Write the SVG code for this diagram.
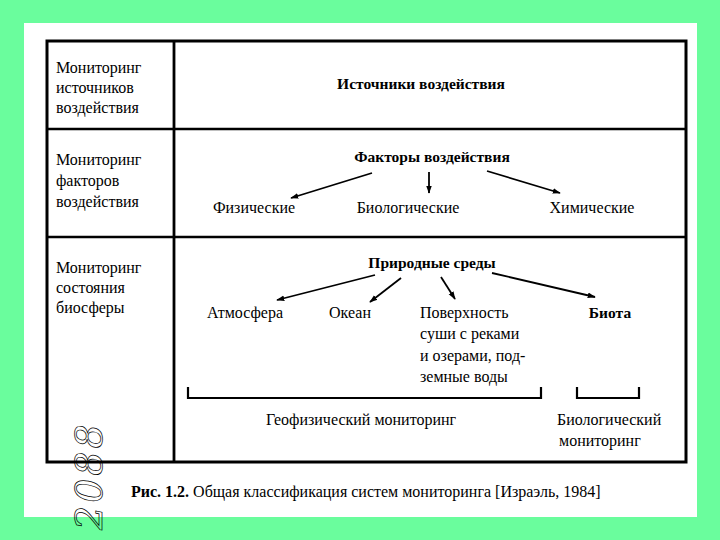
<svg xmlns="http://www.w3.org/2000/svg" width="720" height="540" viewBox="0 0 720 540">
<defs>
<marker id="ah" viewBox="0 0 10 10" refX="9" refY="5" markerWidth="4.5" markerHeight="4.5" orient="auto" markerUnits="strokeWidth">
<path d="M0,1.5 L10,5 L0,8.5 z" fill="#000"/>
</marker>
</defs>
<style>
.t{font-family:"Liberation Serif","Times New Roman",serif;font-size:16px;fill:#000}
.b{font-weight:bold;font-size:15.5px}
.m{text-anchor:middle}
.ln{stroke:#000;fill:none}
.ar{stroke:#000;stroke-width:1.8;fill:none;marker-end:url(#ah)}
.br{stroke:#000;stroke-width:2.2;fill:none}
</style>
<rect x="0" y="0" width="720" height="540" fill="#6afd9d"/>
<rect x="24" y="23" width="673" height="494" fill="#fff"/>

<g id="table">
<rect class="ln" x="47" y="41" width="639" height="421" stroke-width="3"/>
<line class="ln" x1="174" y1="41" x2="174" y2="462" stroke-width="2.8"/>
<line class="ln" x1="47" y1="129" x2="686" y2="129" stroke-width="2.3"/>
<line class="ln" x1="47" y1="237" x2="686" y2="237" stroke-width="2.3"/>
</g>

<g id="row1-label">
<text class="t" x="56" y="73">Мониторинг</text>
<text class="t" x="56" y="93">источников</text>
<text class="t" x="56" y="113">воздействия</text>
</g>
<g id="row2-label">
<text class="t" x="56" y="165">Мониторинг</text>
<text class="t" x="56" y="186">факторов</text>
<text class="t" x="56" y="207">воздействия</text>
</g>
<g id="row3-label">
<text class="t" x="56" y="273">Мониторинг</text>
<text class="t" x="56" y="293">состояния</text>
<text class="t" x="56" y="313">биосферы</text>
</g>

<g id="sources"><text class="t b m" x="421" y="89">Источники воздействия</text></g>
<g id="factors"><text class="t b m" x="432" y="162">Факторы воздействия</text></g>
<g id="physical"><text class="t m" x="254" y="213">Физические</text></g>
<g id="biological"><text class="t m" x="408" y="213">Биологические</text></g>
<g id="chemical"><text class="t m" x="592" y="213">Химические</text></g>

<g id="envs"><text class="t b m" x="432" y="268">Природные среды</text></g>
<g id="atmosphere"><text class="t m" x="245" y="318">Атмосфера</text></g>
<g id="ocean"><text class="t m" x="350" y="318">Океан</text></g>
<g id="land">
<text class="t" x="420" y="318">Поверхность</text>
<text class="t" x="420" y="339">суши с реками</text>
<text class="t" x="420" y="361">и озерами, под-</text>
<text class="t" x="420" y="382">земные воды</text>
</g>
<g id="biota"><text class="t b m" x="610" y="318">Биота</text></g>

<g id="geo"><text class="t m" x="361" y="425">Геофизический мониторинг</text></g>
<g id="bio">
<text class="t" x="557" y="425">Биологический</text>
<text class="t" x="559" y="446">мониторинг</text>
</g>

<g id="connectors">
<line class="ar" x1="372" y1="173" x2="291" y2="198"/>
<line class="ar" x1="429" y1="172" x2="429" y2="193"/>
<line class="ar" x1="487" y1="171" x2="560" y2="193"/>
<line class="ar" x1="375" y1="275" x2="277" y2="300"/>
<line class="ar" x1="401" y1="278" x2="370" y2="302"/>
<line class="ar" x1="441" y1="277" x2="455" y2="299"/>
<line class="ar" x1="492" y1="273" x2="595" y2="297"/>
<path class="br" d="M188,387 V398 H541 V387"/>
<path class="br" d="M577,387 V398 H639 V387"/>
</g>

<g id="caption">
<text class="t" x="131" y="497"><tspan class="b" style="font-size:16px">Рис. 1.2.</tspan> Общая классификация систем мониторинга [Израэль, 1984]</text>
</g>
<g id="handwriting">
<text x="0" y="0" transform="translate(102,530) rotate(-90)" style="font-family:'DejaVu Serif',serif;font-style:italic;font-size:38px;letter-spacing:3px;fill:none;stroke:#000;stroke-width:0.7">2088</text>
</g>
</svg>
